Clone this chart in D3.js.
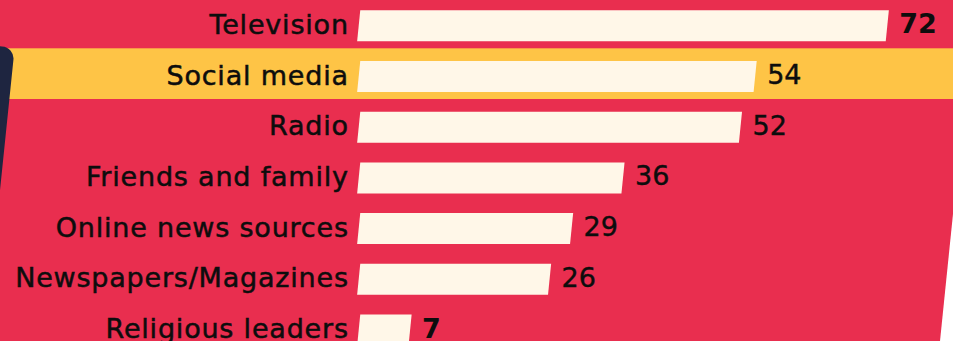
<!DOCTYPE html>
<html>
<head>
<meta charset="utf-8">
<script src="https://cdn.jsdelivr.net/npm/d3@7"></script>
<style>
  html, body { margin: 0; padding: 0; background: #ffffff; }
  svg { display: block; }
</style>
</head>
<body>
<svg id="chart" width="953" height="341"></svg>
<script>
// Where people get their news (share of respondents)
const categories = [
  "Television",
  "Social media",
  "Radio",
  "Friends and family",
  "Online news sources",
  "Newspapers/Magazines",
  "Religious leaders"
];
const values = [72, 54, 52, 36, 29, 26, 7];
const highlighted = ["Social media"];

const W = 953, H = 341;
const RED = "#e92e4f", YELLOW = "#fec446", CREAM = "#fff7e8", NAVY = "#1e2540";
const SLANT = 0.1;          // horizontal shift per pixel of height
const BAR_H = 31;
const BAR_OFFSET = 12.7;     // bar top within each row
const FONT = "'DejaVu Sans', sans-serif";

const svg = d3.select("#chart");

const y = d3.scaleBand()
  .domain(categories)
  .range([-2.4, 352.5])
  .padding(0);

const x = d3.scaleLinear()
  .domain([0, 72])
  .range([358.7, 887.3]);

// Slanted red backdrop
svg.append("path")
  .attr("d", `M0,0 L${W},0 L${W},214 L940,${H} L0,${H} Z`)
  .attr("fill", RED);

// Highlight band behind selected rows
svg.selectAll("rect.band")
  .data(highlighted)
  .join("rect")
  .attr("class", "band")
  .attr("x", 0)
  .attr("y", d => y(d))
  .attr("width", W)
  .attr("height", y.bandwidth())
  .attr("fill", YELLOW);

// Dark card peeking in at the left edge
svg.append("path")
  .attr("d", "M-30,44 L2,46.5 A12,12 0 0 1 13.4,60 L-1,200 L-30,200 Z")
  .attr("fill", NAVY);

const rows = categories.map((c, i) => ({ cat: c, val: values[i] }));
const vmax = d3.max(values), vmin = d3.min(values);
const mid = d => y(d.cat) + BAR_OFFSET + BAR_H / 2;

// Parallelogram bars
function barPath(d) {
  const top = y(d.cat) + BAR_OFFSET, bot = top + BAR_H;
  const x0 = x(0), x1 = x(d.val);
  const dt = (BAR_H / 2) * SLANT;
  return `M${x0 + dt},${top} L${x1 + dt},${top} L${x1 - dt},${bot} L${x0 - dt},${bot} Z`;
}

svg.selectAll("path.bar")
  .data(rows)
  .join("path")
  .attr("class", "bar")
  .attr("d", barPath)
  .attr("fill", CREAM);

// Category labels
svg.selectAll("text.cat")
  .data(rows)
  .join("text")
  .attr("class", "cat")
  .attr("x", 348.8)
  .attr("y", d => mid(d) + 8)
  .attr("text-anchor", "end")
  .attr("font-family", FONT)
  .attr("font-size", 27)
  .attr("letter-spacing", 0.8)
  .attr("fill", "#0d0d0d")
  .attr("stroke", "#0d0d0d")
  .attr("stroke-width", 0.5)
  .text(d => d.cat);

// Value labels
svg.selectAll("text.val")
  .data(rows)
  .join("text")
  .attr("class", "val")
  .attr("x", d => x(d.val) + 12)
  .attr("y", d => mid(d) + 7.5)
  .attr("font-family", FONT)
  .attr("font-size", 27)
  .attr("font-weight", d => (d.val === vmax || d.val === vmin) ? "bold" : "normal")
  .attr("fill", "#0d0d0d")
  .attr("stroke", "#0d0d0d")
  .attr("stroke-width", d => (d.val === vmax || d.val === vmin) ? 0 : 0.4)
  .text(d => d.val);
</script>
</body>
</html>
